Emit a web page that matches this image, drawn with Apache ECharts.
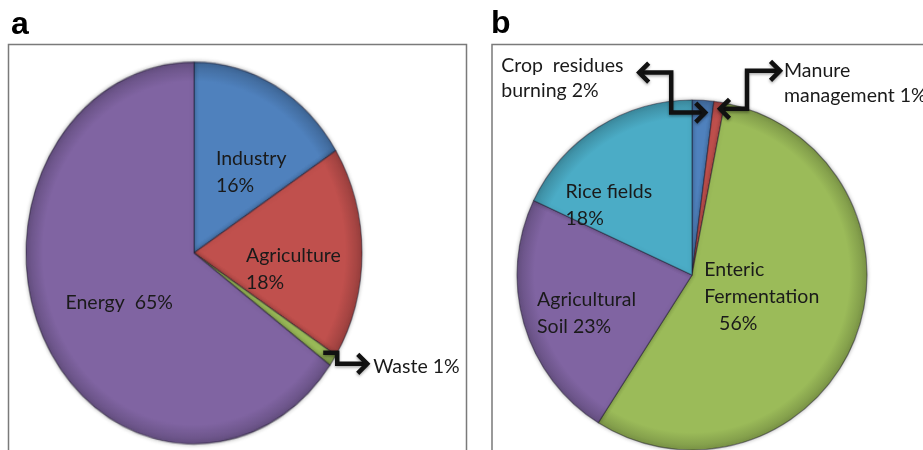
<!DOCTYPE html>
<html>
<head>
<meta charset="utf-8">
<script src="https://cdn.jsdelivr.net/npm/echarts@6/dist/echarts.min.js"></script>
<style>
  html, body { margin: 0; padding: 0; background: #fff; }
  #wrap { position: relative; width: 923px; height: 450px; overflow: hidden; }
  /* panel a pie is drawn as an upright ellipse: its own canvas, stretched vertically */
  #pieA { position: absolute; left: 0; top: 0; width: 470px; height: 396px;
          transform-origin: 0 0; transform: scaleY(1.1369); }
  #main { position: absolute; left: 0; top: 0; width: 923px; height: 450px; }
</style>
</head>
<body>
<div id="wrap"><div id="pieA"></div><div id="main"></div></div>
<script>
// Panel a: emissions by sector (%)
const sectorsA = ['Industry', 'Agriculture', 'Waste', 'Energy'];
const sharesA = [16, 18, 1, 65];
const labelTextA = ['Industry\n', 'Agriculture\n', 'Waste ', 'Energy  '];

// Panel b: emissions from agriculture by source (%)
const sourcesB = ['Crop residues burning', 'Manure management', 'Enteric Fermentation', 'Agricultural Soil', 'Rice fields'];
const sharesB = [2, 1, 56, 23, 18];
const labelTextB = ['Crop  residues\nburning ', 'Manure\nmanagement ', 'Enteric\nFermentation\n   ', 'Agricultural\nSoil ', 'Rice fields\n'];

// Slice colours
const colorsA = ['#4f81bd', '#c0504d', '#9bbb59', '#8064a2'];
const colorsB = ['#4f81bd', '#c0504d', '#9bbb59', '#8064a2', '#4bacc6'];

// Pie geometry (pixels)
const A = { cx: 194, cy: 253, rx: 168, ry: 191 };
const K = A.ry / A.rx;
const B = { cx: 692, cy: 275, r: 175 };

// Nudges from each slice's mid-radius point to its label's left edge
const labelShiftA = [[-20, -5], [-35, 16], [0, 0], [-51, 10]];
const labelShiftB = [[0, 0], [0, 0], [-72, -12], [-68, 13], [-78, 7]];

const ink = '#111';
const textColor = '#1a1a1a';
const font = 'Lato, "Open Sans", sans-serif';
const fontSize = 19.5;

function midAngle(vals, i) {
  const total = vals.reduce((s, v) => s + v, 0);
  let before = 0;
  for (let j = 0; j < i; j++) before += vals[j];
  return (before + vals[i] / 2) / total * Math.PI * 2;
}
function rimPoint(cx, cy, rx, ry, vals, i, f) {
  const a = midAngle(vals, i);
  return [cx + rx * f * Math.sin(a), cy - ry * f * Math.cos(a)];
}
function darker(hex, f) {
  const n = parseInt(hex.slice(1), 16);
  const r = Math.round(((n >> 16) & 255) * f), g = Math.round(((n >> 8) & 255) * f), b = Math.round((n & 255) * f);
  return 'rgb(' + r + ',' + g + ',' + b + ')';
}
function shaded(color, cx, cy, r) {
  return new echarts.graphic.RadialGradient(cx, cy, r, [
    { offset: 0, color: color },
    { offset: 0.9, color: color },
    { offset: 1, color: darker(color, 0.8) }
  ], true);
}
const sliceStyle = {
  borderColor: 'rgba(25,20,40,0.45)', borderWidth: 1.2, borderRadius: 0,
  shadowBlur: 4, shadowColor: 'rgba(0,0,0,0.3)'
};

// ---- panel a pie body ----
const chartA = echarts.init(document.getElementById('pieA'));
chartA.setOption({
  animation: false,
  backgroundColor: 'transparent',
  series: [{
    type: 'pie', silent: true,
    center: [A.cx, A.cy / K], radius: A.rx,
    startAngle: 90, clockwise: true, padAngle: 0,
    label: { show: false }, labelLine: { show: false },
    itemStyle: sliceStyle,
    data: sectorsA.map((n, i) => ({
      name: n, value: sharesA[i],
      itemStyle: { color: shaded(colorsA[i], A.cx, A.cy / K, A.rx) }
    }))
  }]
});

// ---- arrows and annotation text ----
const arrowStyle = { stroke: ink, lineWidth: 4.5, fill: null, lineJoin: 'miter', shadowBlur: 3, shadowColor: 'rgba(0,0,0,0.35)', shadowOffsetY: 1.5 };
function head(tip, dir) {
  const s = 9.5, dx = dir[0], dy = dir[1], nx = -dy, ny = dx;
  return {
    type: 'polyline', silent: true, z: 10,
    shape: { points: [[tip[0] - s * dx + s * nx, tip[1] - s * dy + s * ny], tip, [tip[0] - s * dx - s * nx, tip[1] - s * dy - s * ny]] },
    style: arrowStyle
  };
}
function elbow(points) {
  return { type: 'polyline', silent: true, z: 10, shape: { points: points }, style: arrowStyle };
}
const off = (p, dx, dy) => [p[0] + dx, p[1] + dy];

// Crop residues: double-headed elbow
const cropTip = off(rimPoint(B.cx, B.cy, B.r, B.r, sharesB, 0, 0.93), 3, 0);
const cropEnd = off(cropTip, -66, -40);
const cropPath = [cropEnd, off(cropTip, -34, -40), off(cropTip, -34, 0), cropTip];
// Manure management
const manTip = off(rimPoint(B.cx, B.cy, B.r, B.r, sharesB, 1, 0.95), 2, -2);
const manEnd = off(manTip, 60, -38);
const manPath = [manTip, off(manTip, 27, 0), off(manTip, 27, -38), manEnd];
// Waste
const wStart = rimPoint(A.cx, A.cy, A.rx, A.ry, sharesA, 2, 0.93);
const wEnd = off(wStart, 44, 11);
const wPath = [wStart, off(wStart, 14, 0), off(wStart, 14, 11), wEnd];

function note(x, y, text) {
  return {
    type: 'text', silent: true, z: 10, x: x, y: y,
    style: { text: text, fill: textColor, font: fontSize + 'px ' + font, align: 'left', verticalAlign: 'middle', lineHeight: 25 }
  };
}

const graphic = [
  { type: 'rect', silent: true, shape: { x: 8.5, y: 44.5, width: 458, height: 430 }, style: { fill: null, stroke: '#7a7a7a', lineWidth: 1.5 } },
  { type: 'rect', silent: true, shape: { x: 492, y: 44.5, width: 460, height: 430 }, style: { fill: null, stroke: '#7a7a7a', lineWidth: 1.5 } },
  { type: 'text', silent: true, x: 11, y: 25, style: { text: 'a', fill: '#000', font: 'bold 32px "Liberation Sans", Arial, sans-serif', verticalAlign: 'middle' } },
  { type: 'text', silent: true, x: 491, y: 24, style: { text: 'b', fill: '#000', font: 'bold 32px "Liberation Sans", Arial, sans-serif', verticalAlign: 'middle' } },
  elbow(cropPath), head(cropEnd, [-1, 0]), head(cropTip, [1, 0]),
  elbow(manPath), head(manTip, [-1, 0]), head(manEnd, [1, 0]),
  elbow(wPath), head(wEnd, [1, 0]),
  note(cropEnd[0] - 138, cropEnd[1] + 6, labelTextB[0] + sharesB[0] + '%'),
  note(manEnd[0] + 4, manEnd[1] + 12, labelTextB[1] + sharesB[1] + '%'),
  note(wEnd[0] + 6, wEnd[1] + 3, labelTextA[2] + sharesA[2] + '%')
];

function shiftedLabels(shifts) {
  return function (p) {
    const r = p.labelRect, o = shifts[p.dataIndex];
    return { x: r.x + r.width / 2 + o[0], y: r.y + r.height / 2 + o[1], align: 'left', verticalAlign: 'middle' };
  };
}
const labelStyle = { show: true, position: 'inside', color: textColor, fontFamily: font, fontSize: fontSize, lineHeight: 27, align: 'left' };

const main = echarts.init(document.getElementById('main'));
main.setOption({
  animation: false,
  backgroundColor: 'transparent',
  graphic: graphic,
  series: [
    {
      // carries panel a's in-slice labels over the stretched pie
      type: 'pie', silent: true,
      center: [A.cx, A.cy], radius: A.rx,
      startAngle: 90, clockwise: true,
      labelLine: { show: false },
      itemStyle: { color: 'rgba(0,0,0,0)', borderWidth: 0 },
      label: Object.assign({}, labelStyle, { formatter: p => labelTextA[p.dataIndex] + p.value + '%' }),
      labelLayout: shiftedLabels(labelShiftA),
      data: sectorsA.map((n, i) => ({ name: n, value: sharesA[i], label: { show: i !== 2 } }))
    },
    {
      type: 'pie', silent: true,
      center: [B.cx, B.cy], radius: B.r,
      startAngle: 90, clockwise: true, padAngle: 0,
      labelLine: { show: false },
      itemStyle: sliceStyle,
      label: Object.assign({}, labelStyle, { formatter: p => labelTextB[p.dataIndex] + p.value + '%' }),
      labelLayout: shiftedLabels(labelShiftB),
      data: sourcesB.map((n, i) => ({
        name: n, value: sharesB[i],
        itemStyle: { color: shaded(colorsB[i], B.cx, B.cy, B.r) },
        label: { show: i >= 2 }
      }))
    }
  ]
});
</script>
</body>
</html>
